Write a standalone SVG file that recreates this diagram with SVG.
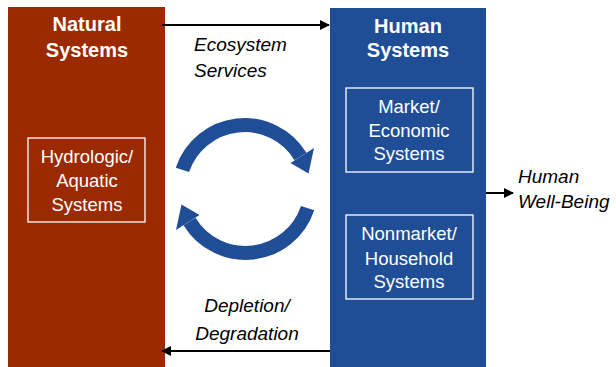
<svg xmlns="http://www.w3.org/2000/svg" width="616" height="367" viewBox="0 0 616 367">
<defs>
<style>
.title{font-family:"Liberation Sans",Arial,sans-serif;font-weight:bold;font-size:20px;fill:#fff;text-anchor:middle}
.inner{font-family:"Liberation Sans",Arial,sans-serif;font-size:18.5px;fill:#fff;text-anchor:middle}
.lbl{font-family:"Liberation Sans",Arial,sans-serif;font-style:italic;font-size:19px;fill:#000}
.box{fill:none;stroke:#fff;stroke-width:1.3}
.conn{stroke:#000;stroke-width:2;fill:none}
.cyc{stroke:#1F4E96;stroke-width:14;fill:none}
</style>
<marker id="ah" viewBox="0 0 10 10" refX="9" refY="5" markerWidth="6" markerHeight="5" markerUnits="strokeWidth" orient="auto">
<path d="M0,0 L10,5 L0,10 z" fill="#000"/>
</marker>
</defs>
<rect width="616" height="367" fill="#fff"/>
<g id="natural">
<rect x="8" y="7" width="157" height="360" fill="#9C2A00"/>
<text class="title" x="87" y="31">Natural</text>
<text class="title" x="87" y="57">Systems</text>
</g>
<g id="hydrologic">
<rect class="box" x="28" y="138" width="117" height="84"/>
<text class="inner" x="87" y="163">Hydrologic/</text>
<text class="inner" x="87" y="187">Aquatic</text>
<text class="inner" x="87" y="211">Systems</text>
</g>
<g id="human">
<rect x="330" y="8" width="156" height="359" fill="#1F4E96"/>
<text class="title" x="408" y="33">Human</text>
<text class="title" x="408" y="57">Systems</text>
</g>
<g id="market">
<rect class="box" x="346" y="88" width="127" height="84"/>
<text class="inner" x="409" y="113">Market/</text>
<text class="inner" x="409" y="137">Economic</text>
<text class="inner" x="409" y="160">Systems</text>
</g>
<g id="nonmarket">
<rect class="box" x="346" y="215" width="127" height="84"/>
<text class="inner" x="409" y="240">Nonmarket/</text>
<text class="inner" x="409" y="265">Household</text>
<text class="inner" x="409" y="288">Systems</text>
</g>
<g id="cycle">
<path class="cyc" d="M182.4,169.9 A65.5,65.5 0 0 1 300.5,156.5"/>
<polygon points="290.5,163 314,148 308.5,173.5" fill="#1F4E96"/>
<path class="cyc" d="M307.6,208.1 A65.5,65.5 0 0 1 189.5,221.5"/>
<polygon points="199.5,215 176,230 181.5,204.5" fill="#1F4E96"/>
</g>
<g id="connectors">
<line class="conn" x1="162" y1="25" x2="329" y2="25" marker-end="url(#ah)"/>
<line class="conn" x1="330" y1="351" x2="162" y2="351" marker-end="url(#ah)"/>
<line class="conn" x1="486" y1="193" x2="513" y2="193" marker-end="url(#ah)"/>
</g>
<g id="labels">
<text class="lbl" x="194" y="51">Ecosystem</text>
<text class="lbl" x="194" y="77">Services</text>
<text class="lbl" x="247" y="312" text-anchor="middle">Depletion/</text>
<text class="lbl" x="247" y="340" text-anchor="middle">Degradation</text>
<text class="lbl" x="518" y="183">Human</text>
<text class="lbl" x="518" y="208">Well-Being</text>
</g>
</svg>
